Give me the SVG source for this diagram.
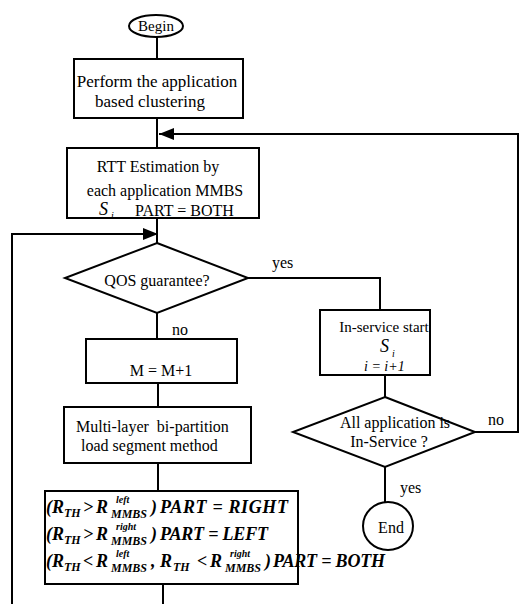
<svg xmlns="http://www.w3.org/2000/svg" width="522" height="604" viewBox="0 0 522 604">
<style>
.b{fill:#fff;stroke:#000;stroke-width:2}
.c{fill:none;stroke:#000;stroke-width:2}
.n{font-family:"Liberation Serif","Times New Roman",Times,serif;font-size:16px;fill:#000}
.mi{font-family:"Liberation Serif","Times New Roman",Times,serif;font-style:italic;font-size:18px;fill:#000}
.s{font-family:"Liberation Serif","Times New Roman",Times,serif;font-style:italic;font-size:12px;fill:#000}
.p{font-family:"Liberation Serif","Times New Roman",Times,serif;font-style:italic;font-size:10px;fill:#000}
.f{font-weight:bold}
.mid{text-anchor:middle}
</style>
<defs>
<marker id="ah" markerUnits="userSpaceOnUse" markerWidth="15" markerHeight="12" refX="15" refY="6" orient="auto">
<path d="M0,0 L15,6 L0,12 z" fill="#000"/>
</marker>
</defs>
<rect width="522" height="604" fill="#fff"/>
<g id="connectors">
<line class="c" x1="157" y1="37" x2="157" y2="59"/>
<line class="c" x1="157" y1="118" x2="157" y2="148"/>
<line class="c" x1="157" y1="218" x2="157" y2="243"/>
<line class="c" x1="157" y1="313" x2="157" y2="339"/>
<line class="c" x1="158" y1="383" x2="158" y2="407"/>
<line class="c" x1="158" y1="463" x2="158" y2="491"/>
<line class="c" x1="163" y1="584" x2="163" y2="604"/>
<path class="c" d="M12,604 V234 H158" marker-end="url(#ah)"/>
<path class="c" d="M248,278 H380 V310"/>
<line class="c" x1="385" y1="375" x2="385" y2="397"/>
<path class="c" d="M475,432 H518 V134 H159" marker-end="url(#ah)"/>
<line class="c" x1="385" y1="467" x2="385" y2="502"/>
<text class="n" x="272" y="268">yes</text>
<text class="n" x="172" y="335">no</text>
<text class="n" x="488" y="425">no</text>
<text class="n" x="400" y="493">yes</text>
</g>
<g id="begin">
<ellipse class="b" cx="156" cy="26" rx="27" ry="11"/>
<text class="n mid" x="156" y="31" style="font-size:15px">Begin</text>
</g>
<g id="cluster">
<rect class="b" x="74" y="59" width="169" height="59"/>
<text class="n mid" x="157" y="87" style="font-size:17px">Perform the application</text>
<text class="n mid" x="150" y="107" style="font-size:17px">based clustering</text>
</g>
<g id="rtt">
<rect class="b" x="67" y="148" width="192" height="70"/>
<text class="n mid" x="158" y="172">RTT Estimation by</text>
<text class="n mid" x="165" y="196">each application MMBS</text>
<text class="mi" x="99" y="215">S</text>
<text class="p" x="111" y="219">i</text>
<text class="n" x="135" y="216">PART = BOTH</text>
</g>
<g id="qos">
<polygon class="b" points="157,243 248,278 157,313 65,278"/>
<text class="n mid" x="157" y="286">QOS guarantee?</text>
</g>
<g id="increment">
<rect class="b" x="86" y="339" width="151" height="44"/>
<text class="n mid" x="161" y="376">M = M+1</text>
</g>
<g id="multilayer">
<rect class="b" x="64" y="407" width="187" height="56"/>
<text class="n" x="76" y="432">Multi-layer&#160; bi-partition</text>
<text class="n" x="81" y="451">load segment method</text>
</g>
<g id="partition">
<rect class="b" x="45" y="491" width="253" height="93"/>
<text class="mi f" x="46" y="513">(</text>
<text class="mi f" x="52" y="513">R</text>
<text class="s f" x="64" y="517">TH</text>
<text class="mi f" x="83" y="513">&gt;</text>
<text class="mi f" x="96" y="513">R</text>
<text class="p f" x="116" y="503">left</text>
<text class="s f" x="111" y="518">MMBS</text>
<text class="mi f" x="151" y="513">)</text>
<text class="mi f" x="160" y="513" textLength="128">PART = RIGHT</text>
<text class="mi f" x="46" y="540">(</text>
<text class="mi f" x="52" y="540">R</text>
<text class="s f" x="64" y="544">TH</text>
<text class="mi f" x="83" y="540">&gt;</text>
<text class="mi f" x="96" y="540">R</text>
<text class="p f" x="116" y="530">right</text>
<text class="s f" x="111" y="545">MMBS</text>
<text class="mi f" x="151" y="540">)</text>
<text class="mi f" x="160" y="540" textLength="108">PART = LEFT</text>
<text class="mi f" x="46" y="567">(</text>
<text class="mi f" x="52" y="567">R</text>
<text class="s f" x="64" y="571">TH</text>
<text class="mi f" x="83" y="567">&lt;</text>
<text class="mi f" x="96" y="567">R</text>
<text class="p f" x="116" y="557">left</text>
<text class="s f" x="111" y="572">MMBS</text>
<text class="mi f" x="151" y="567">,</text>
<text class="mi f" x="160" y="567">R</text>
<text class="s f" x="173" y="571">TH</text>
<text class="mi f" x="197" y="567">&lt;</text>
<text class="mi f" x="210" y="567">R</text>
<text class="p f" x="230" y="557">right</text>
<text class="s f" x="225" y="572">MMBS</text>
<text class="mi f" x="265" y="567">)</text>
<text class="mi f" x="273" y="567" textLength="112">PART = BOTH</text>
</g>
<g id="inservice">
<rect class="b" x="320" y="310" width="110" height="65"/>
<text class="n mid" x="384" y="332" style="font-size:15px">In-service start</text>
<text class="mi" x="380" y="352">S</text>
<text class="p" x="392" y="357">i</text>
<text class="mi" x="364" y="371" style="font-size:14px">i = i+1</text>
</g>
<g id="allservice">
<polygon class="b" points="385,397 475,432 385,467 293,432"/>
<text class="n mid" x="395" y="428">All application is</text>
<text class="n mid" x="389" y="447">In-Service ?</text>
</g>
<g id="end">
<ellipse class="b" cx="388" cy="526" rx="25" ry="24"/>
<text class="n mid" x="391" y="533">End</text>
</g>
</svg>
